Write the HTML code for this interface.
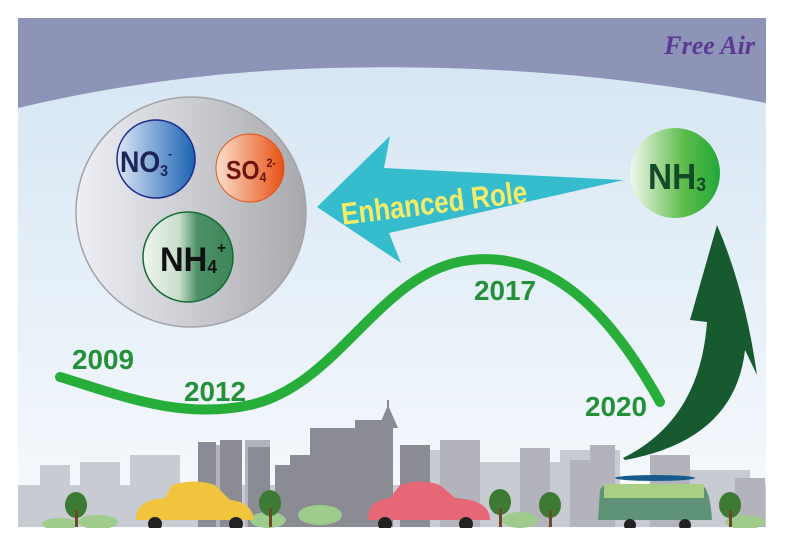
<!DOCTYPE html>
<html><head><meta charset="utf-8"><style>
html,body{margin:0;padding:0;background:#fff}
svg{display:block}
text{font-family:"Liberation Sans",sans-serif;font-weight:bold}
</style></head><body>
<svg width="787" height="546" viewBox="0 0 787 546" xmlns="http://www.w3.org/2000/svg">
<defs>
<linearGradient id="sky" x1="0" y1="0" x2="0" y2="1"><stop offset="0" stop-color="#d3e4f2"/><stop offset="1" stop-color="#f7fafd"/></linearGradient>
<linearGradient id="gray" x1="0" y1="0" x2="1" y2="0"><stop offset="0" stop-color="#eef0f6"/><stop offset="1" stop-color="#a9a9ad"/></linearGradient>
<linearGradient id="blue" x1="0" y1="0" x2="1" y2="0"><stop offset="0" stop-color="#dde6f5"/><stop offset="1" stop-color="#1a63b3"/></linearGradient>
<linearGradient id="orange" x1="0" y1="0" x2="1" y2="0"><stop offset="0" stop-color="#fbe0cc"/><stop offset="1" stop-color="#e85014"/></linearGradient>
<linearGradient id="dg" x1="0" y1="0" x2="1" y2="0"><stop offset="0" stop-color="#f0f6ef"/><stop offset="0.4" stop-color="#c9dfcb"/><stop offset="0.6" stop-color="#4e9167"/><stop offset="1" stop-color="#3c8758"/></linearGradient>
<linearGradient id="lg" x1="0" y1="0" x2="1" y2="0"><stop offset="0" stop-color="#f3f8ee"/><stop offset="0.6" stop-color="#5ebc4a"/><stop offset="1" stop-color="#22a838"/></linearGradient>
</defs>
<rect x="18" y="18" width="748" height="510" fill="url(#sky)"/>
<path d="M18,18 H766 V103 Q560,62 330,68 Q170,72 18,108 Z" fill="#8e93b8"/>
<text x="755" y="54" text-anchor="end" font-style="italic" font-size="26" fill="#5b3a93" style="font-family:'Liberation Serif',serif">Free Air</text>

<!-- city -->
<g fill="#c9cbd2">
<rect x="18" y="485" width="748" height="42"/>
<rect x="40" y="465" width="30" height="62"/><rect x="80" y="462" width="40" height="65"/><rect x="130" y="455" width="50" height="72"/><rect x="480" y="462" width="80" height="65"/><rect x="560" y="450" width="60" height="77"/><rect x="690" y="470" width="60" height="57"/><rect x="420" y="450" width="60" height="77"/>
</g>
<g fill="#b3b4bb">
<rect x="200" y="445" width="40" height="82"/><rect x="245" y="440" width="25" height="87"/><rect x="520" y="448" width="30" height="79"/><rect x="570" y="460" width="40" height="67"/><rect x="735" y="478" width="30" height="49"/><rect x="440" y="440" width="40" height="87"/><rect x="650" y="455" width="40" height="72"/><rect x="590" y="445" width="25" height="82"/>
</g>
<g fill="#8b8c93">
<rect x="198" y="442" width="18" height="85"/><rect x="220" y="440" width="22" height="87"/><rect x="248" y="447" width="22" height="80"/><rect x="275" y="465" width="40" height="62"/><rect x="290" y="455" width="30" height="72"/>
<rect x="310" y="428" width="45" height="99"/><rect x="355" y="420" width="38" height="107"/><polygon points="378,428 388,405 398,428"/><rect x="387" y="400" width="2" height="20"/>
<rect x="400" y="445" width="30" height="82"/>
</g>
<g fill="#9fcb8c">
<ellipse cx="60" cy="524" rx="18" ry="6"/><ellipse cx="98" cy="522" rx="20" ry="7"/><ellipse cx="268" cy="520" rx="18" ry="8"/><ellipse cx="320" cy="515" rx="22" ry="10"/><ellipse cx="520" cy="520" rx="18" ry="8"/><ellipse cx="745" cy="522" rx="20" ry="7"/>
</g>
<g fill="#3d7a33"><ellipse cx="76" cy="505" rx="11" ry="13"/><ellipse cx="270" cy="503" rx="11" ry="13"/><ellipse cx="500" cy="502" rx="11" ry="13"/><ellipse cx="550" cy="505" rx="11" ry="13"/><ellipse cx="730" cy="505" rx="11" ry="13"/></g>
<g fill="#6b4a2a"><rect x="75" y="510" width="3" height="17"/><rect x="269" y="508" width="3" height="19"/><rect x="499" y="508" width="3" height="19"/><rect x="549" y="510" width="3" height="17"/><rect x="729" y="510" width="3" height="17"/></g>
<path d="M136,520 Q135,500 165,498 L172,485 Q195,478 215,485 L230,500 Q252,502 254,520 Z" fill="#f0c43c"/>
<path d="M368,520 Q367,500 390,498 L400,485 Q420,478 440,485 L455,498 Q490,500 490,520 Z" fill="#e66776"/>
<path d="M598,520 L600,490 Q602,484 612,484 L700,484 Q710,486 712,520 Z" fill="#5e9378"/>
<rect x="604" y="484" width="100" height="14" fill="#a9cf85"/>
<ellipse cx="655" cy="478" rx="40" ry="3" fill="#185a8c"/>
<g fill="#222"><circle cx="155" cy="524" r="7"/><circle cx="236" cy="524" r="7"/><circle cx="385" cy="524" r="7"/><circle cx="466" cy="524" r="7"/><circle cx="630" cy="525" r="6"/><circle cx="685" cy="525" r="6"/></g>
<rect x="0" y="528" width="787" height="18" fill="#fff"/>

<ellipse cx="191" cy="212" rx="115" ry="115" fill="url(#gray)" stroke="#a4a4a8" stroke-width="1.5"/>
<circle cx="156" cy="159" r="39" fill="url(#blue)" stroke="#1c2a8a" stroke-width="1.5"/>
<text x="120" y="172" font-size="30" fill="#1c2557" textLength="52" lengthAdjust="spacingAndGlyphs">NO<tspan font-size="16" dy="4">3</tspan><tspan font-size="13" dy="-18">-</tspan></text>
<ellipse cx="250" cy="168" rx="34" ry="34" fill="url(#orange)" stroke="#e85014" stroke-width="1"/>
<text x="226" y="179" font-size="26" fill="#6b1410" textLength="50" lengthAdjust="spacingAndGlyphs">SO<tspan font-size="14" dy="3">4</tspan><tspan font-size="12" dy="-15">2-</tspan></text>
<circle cx="188" cy="257" r="45" fill="url(#dg)" stroke="#166b35" stroke-width="1.5"/>
<text x="160" y="271" font-size="34" fill="#111" textLength="66" lengthAdjust="spacingAndGlyphs">NH<tspan font-size="18" dy="2">4</tspan><tspan font-size="16" dy="-20">+</tspan></text>

<polygon points="317,207 390,136 384,168 624,180 389,233 401,263" fill="#35bccd"/>
<text x="340" y="214" font-size="31" fill="#f3ec6a" transform="rotate(-7 430 198)" textLength="187" lengthAdjust="spacingAndGlyphs">Enhanced Role</text>

<ellipse cx="675" cy="173" rx="45" ry="45" fill="url(#lg)"/>
<text x="648" y="189" font-size="36" fill="#124a2a" textLength="58" lengthAdjust="spacingAndGlyphs">NH<tspan font-size="19" dy="2">3</tspan></text>

<path d="M60,377 C120,395 180,420 250,405 C340,385 380,270 470,260 C560,250 620,330 660,402" fill="none" stroke="#27ad3a" stroke-width="10" stroke-linecap="round"/>
<g font-size="28" fill="#24903a">
<text x="72" y="369" textLength="62" lengthAdjust="spacingAndGlyphs">2009</text><text x="184" y="401" textLength="62" lengthAdjust="spacingAndGlyphs">2012</text><text x="474" y="300" textLength="62" lengthAdjust="spacingAndGlyphs">2017</text><text x="585" y="416" textLength="62" lengthAdjust="spacingAndGlyphs">2020</text>
</g>

<path d="M717,225 Q745,290 757,375 L745,350 Q735,440 625,460 L623,458 Q700,420 707,322 L690,320 Z" fill="#175a30"/>
</svg>
</body></html>
